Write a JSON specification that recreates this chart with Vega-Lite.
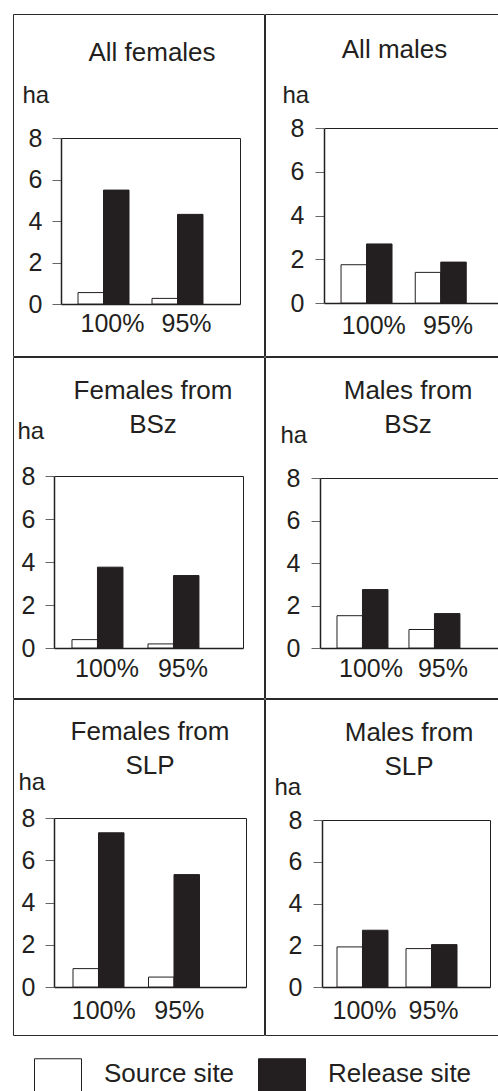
{
  "$schema": "https://vega.github.io/schema/vega-lite/v6.json",
  "padding": {"left": 12, "top": 13, "right": 0, "bottom": 0},
  "data": {"values": [
    {"panel": "All females", "level": "100%", "site": "Source site", "ha": 0.55},
    {"panel": "All females", "level": "100%", "site": "Release site", "ha": 5.49},
    {"panel": "All females", "level": "95%", "site": "Source site", "ha": 0.27},
    {"panel": "All females", "level": "95%", "site": "Release site", "ha": 4.32},
    {"panel": "All males", "level": "100%", "site": "Source site", "ha": 1.75},
    {"panel": "All males", "level": "100%", "site": "Release site", "ha": 2.70},
    {"panel": "All males", "level": "95%", "site": "Source site", "ha": 1.40},
    {"panel": "All males", "level": "95%", "site": "Release site", "ha": 1.87},
    {"panel": "Females from BSz", "level": "100%", "site": "Source site", "ha": 0.39},
    {"panel": "Females from BSz", "level": "100%", "site": "Release site", "ha": 3.76},
    {"panel": "Females from BSz", "level": "95%", "site": "Source site", "ha": 0.19},
    {"panel": "Females from BSz", "level": "95%", "site": "Release site", "ha": 3.37},
    {"panel": "Males from BSz", "level": "100%", "site": "Source site", "ha": 1.52},
    {"panel": "Males from BSz", "level": "100%", "site": "Release site", "ha": 2.75},
    {"panel": "Males from BSz", "level": "95%", "site": "Source site", "ha": 0.87},
    {"panel": "Males from BSz", "level": "95%", "site": "Release site", "ha": 1.62},
    {"panel": "Females from SLP", "level": "100%", "site": "Source site", "ha": 0.87},
    {"panel": "Females from SLP", "level": "100%", "site": "Release site", "ha": 7.30},
    {"panel": "Females from SLP", "level": "95%", "site": "Source site", "ha": 0.47},
    {"panel": "Females from SLP", "level": "95%", "site": "Release site", "ha": 5.32},
    {"panel": "Males from SLP", "level": "100%", "site": "Source site", "ha": 1.92},
    {"panel": "Males from SLP", "level": "100%", "site": "Release site", "ha": 2.72},
    {"panel": "Males from SLP", "level": "95%", "site": "Source site", "ha": 1.84},
    {"panel": "Males from SLP", "level": "95%", "site": "Release site", "ha": 2.03}
  ]},
  "config": {
    "font": "Liberation Sans",
    "view": {"stroke": "#2a2a2a", "strokeWidth": 1},
    "concat": {"spacing": -2},
    "axis": {"grid": false, "labelColor": "#231f20", "titleColor": "#231f20", "domainColor": "#231f20", "tickColor": "#666666", "labelFont": "Liberation Sans", "titleFont": "Liberation Sans"},
    "title": {"fontSize": 26, "fontWeight": "normal", "color": "#231f20", "font": "Liberation Sans", "anchor": "middle", "frame": "group", "lineHeight": 34.5}
  },
  "spacing": -2,
  "vconcat": [
    {"spacing": -2, "hconcat": [
      {
        "width": 251, "height": 342,
        "title": {"text": "All females", "offset": -51.5, "dx": 13.5},
        "transform": [{"filter": "datum.panel === 'All females'"}],
        "layer": [
          {"mark": {"type": "bar", "stroke": "#231f20", "strokeWidth": 1},
           "encoding": {
             "x": {"field": "level", "type": "nominal", "sort": ["100%", "95%"], "scale": {"range": [48, 227], "paddingInner": 0.311, "paddingOuter": 0.365, "align": 0.315}, "axis": {"orient": "bottom", "offset": -52, "ticks": false, "labelAngle": 0, "labelFontSize": 25, "labelPadding": 7, "labelOffset": 9, "title": null, "domainWidth": 1.5}},
             "xOffset": {"field": "site", "type": "nominal", "sort": ["Source site", "Release site"]},
             "y": {"field": "ha", "type": "quantitative", "scale": {"domain": [0, 8], "range": [290, 124], "nice": false}, "axis": {"orient": "left", "offset": -48, "values": [0, 2, 4, 6, 8], "tickSize": 9, "labelPadding": 10, "labelFontSize": 25, "title": "ha", "titleAngle": 0, "titleX": -39, "titleY": 88, "titleAlign": "left", "titleBaseline": "alphabetic", "titleFontSize": 24, "titleFontWeight": "normal", "domainWidth": 1.5}},
             "fill": {"field": "site", "type": "nominal", "scale": {"domain": ["Source site", "Release site"], "range": ["white", "#231f20"]}, "legend": {"title": null, "orient": "none", "legendX": 21, "legendY": 1044, "direction": "horizontal", "symbolType": "square", "symbolSize": 2209, "symbolStrokeColor": "#231f20", "symbolStrokeWidth": 1, "labelFontSize": 26, "labelBaseline": "alphabetic", "labelOffset": 22, "columnPadding": 21, "labelColor": "#231f20", "labelLimit": 300}}
           }},
          {"mark": {"type": "point", "opacity": 0},
           "encoding": {
             "x": {"field": "level", "type": "nominal", "sort": ["100%", "95%"], "axis": {"orient": "top", "offset": -124, "labels": false, "ticks": false, "title": null, "domainWidth": 1}},
             "y": {"field": "ha", "type": "quantitative", "axis": {"orient": "right", "offset": -24, "labels": false, "ticks": false, "title": null, "domainWidth": 1}}
           }}
        ],
        "resolve": {"axis": {"x": "independent", "y": "independent"}}
      },
      {
        "width": 235, "height": 342,
        "title": {"text": "All males", "offset": -48.5, "dx": 12},
        "transform": [{"filter": "datum.panel === 'All males'"}],
        "layer": [
          {"mark": {"type": "bar", "stroke": "#231f20", "strokeWidth": 1},
           "encoding": {
             "x": {"field": "level", "type": "nominal", "sort": ["100%", "95%"], "scale": {"range": [59, 233], "paddingInner": 0.306, "paddingOuter": 0.325, "align": 0.353}, "axis": {"orient": "bottom", "offset": -53, "ticks": false, "labelAngle": 0, "labelFontSize": 25, "labelPadding": 10, "labelOffset": 7, "title": null, "domainWidth": 1.5}},
             "xOffset": {"field": "site", "type": "nominal", "sort": ["Source site", "Release site"]},
             "y": {"field": "ha", "type": "quantitative", "scale": {"domain": [0, 8], "range": [289, 114], "nice": false}, "axis": {"orient": "left", "offset": -59, "values": [0, 2, 4, 6, 8], "tickSize": 9, "labelPadding": 11, "labelFontSize": 25, "title": "ha", "titleAngle": 0, "titleX": -42, "titleY": 88, "titleAlign": "left", "titleBaseline": "alphabetic", "titleFontSize": 24, "titleFontWeight": "normal", "domainWidth": 1.5}},
             "fill": {"field": "site", "type": "nominal", "scale": {"domain": ["Source site", "Release site"], "range": ["white", "#231f20"]}, "legend": {"title": null, "orient": "none", "legendX": 21, "legendY": 1044, "direction": "horizontal", "symbolType": "square", "symbolSize": 2209, "symbolStrokeColor": "#231f20", "symbolStrokeWidth": 1, "labelFontSize": 26, "labelBaseline": "alphabetic", "labelOffset": 22, "columnPadding": 21, "labelColor": "#231f20", "labelLimit": 300}}
           }},
          {"mark": {"type": "point", "opacity": 0},
           "encoding": {
             "x": {"field": "level", "type": "nominal", "sort": ["100%", "95%"], "axis": {"orient": "top", "offset": -114, "labels": false, "ticks": false, "title": null, "domainWidth": 1}},
             "y": {"field": "ha", "type": "quantitative", "axis": {"orient": "right", "offset": -2, "labels": false, "ticks": false, "title": null, "domainWidth": 1}}
           }}
        ],
        "resolve": {"axis": {"x": "independent", "y": "independent"}}
      }
    ]},
    {"spacing": -2, "hconcat": [
      {
        "width": 251, "height": 341,
        "title": {"text": ["Females from", "BSz"], "offset": -81, "dx": 14.5},
        "transform": [{"filter": "datum.panel === 'Females from BSz'"}],
        "layer": [
          {"mark": {"type": "bar", "stroke": "#231f20", "strokeWidth": 1},
           "encoding": {
             "x": {"field": "level", "type": "nominal", "sort": ["100%", "95%"], "scale": {"range": [41, 230], "paddingInner": 0.329, "paddingOuter": 0.408, "align": 0.29}, "axis": {"orient": "bottom", "offset": -50, "ticks": false, "labelAngle": 0, "labelFontSize": 25, "labelPadding": 8, "labelOffset": 9.5, "title": null, "domainWidth": 1.5}},
             "xOffset": {"field": "site", "type": "nominal", "sort": ["Source site", "Release site"]},
             "y": {"field": "ha", "type": "quantitative", "scale": {"domain": [0, 8], "range": [291, 119], "nice": false}, "axis": {"orient": "left", "offset": -41, "values": [0, 2, 4, 6, 8], "tickSize": 9, "labelPadding": 10, "labelFontSize": 25, "title": "ha", "titleAngle": 0, "titleX": -37, "titleY": 81, "titleAlign": "left", "titleBaseline": "alphabetic", "titleFontSize": 24, "titleFontWeight": "normal", "domainWidth": 1.5}},
             "fill": {"field": "site", "type": "nominal", "scale": {"domain": ["Source site", "Release site"], "range": ["white", "#231f20"]}, "legend": {"title": null, "orient": "none", "legendX": 21, "legendY": 1044, "direction": "horizontal", "symbolType": "square", "symbolSize": 2209, "symbolStrokeColor": "#231f20", "symbolStrokeWidth": 1, "labelFontSize": 26, "labelBaseline": "alphabetic", "labelOffset": 22, "columnPadding": 21, "labelColor": "#231f20", "labelLimit": 300}}
           }},
          {"mark": {"type": "point", "opacity": 0},
           "encoding": {
             "x": {"field": "level", "type": "nominal", "sort": ["100%", "95%"], "axis": {"orient": "top", "offset": -119, "labels": false, "ticks": false, "title": null, "domainWidth": 1}},
             "y": {"field": "ha", "type": "quantitative", "axis": {"orient": "right", "offset": -21, "labels": false, "ticks": false, "title": null, "domainWidth": 1}}
           }}
        ],
        "resolve": {"axis": {"x": "independent", "y": "independent"}}
      },
      {
        "width": 235, "height": 341,
        "title": {"text": ["Males from", "BSz"], "offset": -81, "dx": 25.5},
        "transform": [{"filter": "datum.panel === 'Males from BSz'"}],
        "layer": [
          {"mark": {"type": "bar", "stroke": "#231f20", "strokeWidth": 1},
           "encoding": {
             "x": {"field": "level", "type": "nominal", "sort": ["100%", "95%"], "scale": {"range": [55, 233], "paddingInner": 0.319, "paddingOuter": 0.396, "align": 0.298}, "axis": {"orient": "bottom", "offset": -50, "ticks": false, "labelAngle": 0, "labelFontSize": 25, "labelPadding": 8, "labelOffset": 9.5, "title": null, "domainWidth": 1.5}},
             "xOffset": {"field": "site", "type": "nominal", "sort": ["Source site", "Release site"]},
             "y": {"field": "ha", "type": "quantitative", "scale": {"domain": [0, 8], "range": [291, 121], "nice": false}, "axis": {"orient": "left", "offset": -55, "values": [0, 2, 4, 6, 8], "tickSize": 9, "labelPadding": 11, "labelFontSize": 25, "title": "ha", "titleAngle": 0, "titleX": -40, "titleY": 85, "titleAlign": "left", "titleBaseline": "alphabetic", "titleFontSize": 24, "titleFontWeight": "normal", "domainWidth": 1.5}},
             "fill": {"field": "site", "type": "nominal", "scale": {"domain": ["Source site", "Release site"], "range": ["white", "#231f20"]}, "legend": {"title": null, "orient": "none", "legendX": 21, "legendY": 1044, "direction": "horizontal", "symbolType": "square", "symbolSize": 2209, "symbolStrokeColor": "#231f20", "symbolStrokeWidth": 1, "labelFontSize": 26, "labelBaseline": "alphabetic", "labelOffset": 22, "columnPadding": 21, "labelColor": "#231f20", "labelLimit": 300}}
           }},
          {"mark": {"type": "point", "opacity": 0},
           "encoding": {
             "x": {"field": "level", "type": "nominal", "sort": ["100%", "95%"], "axis": {"orient": "top", "offset": -121, "labels": false, "ticks": false, "title": null, "domainWidth": 1}},
             "y": {"field": "ha", "type": "quantitative", "axis": {"orient": "right", "offset": -2, "labels": false, "ticks": false, "title": null, "domainWidth": 1}}
           }}
        ],
        "resolve": {"axis": {"x": "independent", "y": "independent"}}
      }
    ]},
    {"spacing": -2, "hconcat": [
      {
        "width": 251, "height": 336,
        "title": {"text": ["Females from", "SLP"], "offset": -80, "dx": 11.5},
        "transform": [{"filter": "datum.panel === 'Females from SLP'"}],
        "layer": [
          {"mark": {"type": "bar", "stroke": "#231f20", "strokeWidth": 1},
           "encoding": {
             "x": {"field": "level", "type": "nominal", "sort": ["100%", "95%"], "scale": {"range": [41, 233], "paddingInner": 0.331, "paddingOuter": 0.437, "align": 0.288}, "axis": {"orient": "bottom", "offset": -48, "ticks": false, "labelAngle": 0, "labelFontSize": 25, "labelPadding": 11, "labelOffset": 5.5, "title": null, "domainWidth": 1.5}},
             "xOffset": {"field": "site", "type": "nominal", "sort": ["Source site", "Release site"]},
             "y": {"field": "ha", "type": "quantitative", "scale": {"domain": [0, 8], "range": [288, 119], "nice": false}, "axis": {"orient": "left", "offset": -41, "values": [0, 2, 4, 6, 8], "tickSize": 9, "labelPadding": 10, "labelFontSize": 25, "title": "ha", "titleAngle": 0, "titleX": -36, "titleY": 90, "titleAlign": "left", "titleBaseline": "alphabetic", "titleFontSize": 24, "titleFontWeight": "normal", "domainWidth": 1.5}},
             "fill": {"field": "site", "type": "nominal", "scale": {"domain": ["Source site", "Release site"], "range": ["white", "#231f20"]}, "legend": {"title": null, "orient": "none", "legendX": 21, "legendY": 1044, "direction": "horizontal", "symbolType": "square", "symbolSize": 2209, "symbolStrokeColor": "#231f20", "symbolStrokeWidth": 1, "labelFontSize": 26, "labelBaseline": "alphabetic", "labelOffset": 22, "columnPadding": 21, "labelColor": "#231f20", "labelLimit": 300}}
           }},
          {"mark": {"type": "point", "opacity": 0},
           "encoding": {
             "x": {"field": "level", "type": "nominal", "sort": ["100%", "95%"], "axis": {"orient": "top", "offset": -119, "labels": false, "ticks": false, "title": null, "domainWidth": 1}},
             "y": {"field": "ha", "type": "quantitative", "axis": {"orient": "right", "offset": -18, "labels": false, "ticks": false, "title": null, "domainWidth": 1}}
           }}
        ],
        "resolve": {"axis": {"x": "independent", "y": "independent"}}
      },
      {
        "width": 235, "height": 336,
        "title": {"text": ["Males from", "SLP"], "offset": -81, "dx": 26.5},
        "transform": [{"filter": "datum.panel === 'Males from SLP'"}],
        "layer": [
          {"mark": {"type": "bar", "stroke": "#231f20", "strokeWidth": 1},
           "encoding": {
             "x": {"field": "level", "type": "nominal", "sort": ["100%", "95%"], "scale": {"range": [57, 225], "paddingInner": 0.348, "paddingOuter": 0.391, "align": 0.278}, "axis": {"orient": "bottom", "offset": -48, "ticks": false, "labelAngle": 0, "labelFontSize": 25, "labelPadding": 11, "labelOffset": 5, "title": null, "domainWidth": 1.5}},
             "xOffset": {"field": "site", "type": "nominal", "sort": ["Source site", "Release site"]},
             "y": {"field": "ha", "type": "quantitative", "scale": {"domain": [0, 8], "range": [288, 121], "nice": false}, "axis": {"orient": "left", "offset": -57, "values": [0, 2, 4, 6, 8], "tickSize": 9, "labelPadding": 11, "labelFontSize": 25, "title": "ha", "titleAngle": 0, "titleX": -48, "titleY": 95, "titleAlign": "left", "titleBaseline": "alphabetic", "titleFontSize": 24, "titleFontWeight": "normal", "domainWidth": 1.5}},
             "fill": {"field": "site", "type": "nominal", "scale": {"domain": ["Source site", "Release site"], "range": ["white", "#231f20"]}, "legend": {"title": null, "orient": "none", "legendX": 21, "legendY": 1044, "direction": "horizontal", "symbolType": "square", "symbolSize": 2209, "symbolStrokeColor": "#231f20", "symbolStrokeWidth": 1, "labelFontSize": 26, "labelBaseline": "alphabetic", "labelOffset": 22, "columnPadding": 21, "labelColor": "#231f20", "labelLimit": 300}}
           }},
          {"mark": {"type": "point", "opacity": 0},
           "encoding": {
             "x": {"field": "level", "type": "nominal", "sort": ["100%", "95%"], "axis": {"orient": "top", "offset": -121, "labels": false, "ticks": false, "title": null, "domainWidth": 1}},
             "y": {"field": "ha", "type": "quantitative", "axis": {"orient": "right", "offset": -10, "labels": false, "ticks": false, "title": null, "domainWidth": 1}}
           }}
        ],
        "resolve": {"axis": {"x": "independent", "y": "independent"}}
      }
    ]}
  ]
}
